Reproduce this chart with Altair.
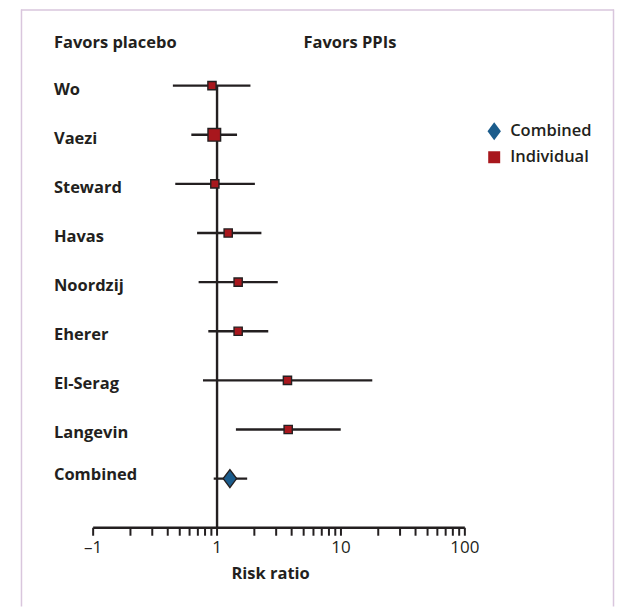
import altair as alt
import pandas as pd

# ---------------- data ----------------
studies = ["Wo", "Vaezi", "Steward", "Havas", "Noordzij", "Eherer", "El-Serag", "Langevin"]
risk_ratio = [0.91, 0.95, 0.96, 1.23, 1.48, 1.48, 3.70, 3.75]
ci_low = [0.44, 0.62, 0.46, 0.69, 0.71, 0.85, 0.77, 1.42]
ci_high = [1.86, 1.45, 2.02, 2.28, 3.09, 2.59, 17.9, 9.96]
weights = [1.0, 2.4, 1.0, 1.0, 1.0, 1.0, 1.0, 1.0]

combined_label = "Combined"
combined_rr = 1.27
combined_low = 0.94
combined_high = 1.75

tick_values = [0.1, 0.2, 0.3, 0.4, 0.5, 0.6, 0.7, 0.8, 0.9,
               1, 2, 3, 4, 5, 6, 7, 8, 9,
               10, 20, 30, 40, 50, 60, 70, 80, 90, 100]
tick_label_values = [0.1, 1, 10, 100]
tick_label_texts = ["\u20131", "1", "10", "100"]
axis_title = "Risk ratio"
header_left = "Favors placebo"
header_right = "Favors PPIs"
legend_types = ["Combined", "Individual"]

# ---------------- tables ----------------
ind = pd.DataFrame({
    "label": studies,
    "row": list(range(len(studies))),
    "rr": risk_ratio, "lo": ci_low, "hi": ci_high,
    "weight": weights, "type": "Individual",
})
comb = pd.DataFrame({
    "label": [combined_label], "row": [len(studies)],
    "rr": [combined_rr], "lo": [combined_low], "hi": [combined_high],
    "type": ["Combined"],
})
allrows = pd.concat([ind, comb], ignore_index=True)
axis_row = len(studies) + 1

ref_df = pd.DataFrame({"x": [1], "y": [0], "y2": [axis_row]})
axisline_df = pd.DataFrame({"x": [tick_values[0]], "x2": [tick_values[-1]], "y": [axis_row]})
ticks_df = pd.DataFrame({"x": tick_values, "y": axis_row})
ticklab_df = pd.DataFrame({"x": tick_label_values, "t": tick_label_texts, "y": axis_row})

# ---------------- styling ----------------
INK = "#231f20"
FONT = "Open Sans"
RED = "#a8171d"
BLUE = "#1b5c8c"
SQUARE = "M-0.5,-0.5L0.5,-0.5L0.5,0.5L-0.5,0.5Z"
DIAMOND = "M0,-0.75L0.56,0L0,0.75L-0.56,0Z"

W, H = 594, 598
X = alt.Scale(type="log", domain=[0.02615, 1599], nice=False)
Y = alt.Scale(domain=[-1.5508, 10.6037], reverse=True, nice=False, zero=False)

legend = alt.Legend(
    title=None, orient="none", legendX=461, legendY=109, padding=0,
    symbolSize=576, symbolStrokeColor=INK, symbolStrokeWidth=1.3,
    labelFont=FONT, labelFontSize=16.5, labelFontWeight=600, labelColor=INK,
    labelOffset=3, rowPadding=1,
)
fill_enc = alt.Fill("type:N", scale=alt.Scale(domain=legend_types, range=[BLUE, RED]), legend=legend)
shape_enc = alt.Shape("type:N", scale=alt.Scale(domain=legend_types, range=[DIAMOND, SQUARE]), legend=legend)

FRAME = "#d9c6dd"
frame_left = alt.Chart(ref_df).mark_rule(color=FRAME, strokeWidth=1.5).encode(
    x=alt.value(0.5), y=alt.value(0), y2=alt.value(H))
frame_top = alt.Chart(ref_df).mark_rule(color=FRAME, strokeWidth=1.5).encode(
    x=alt.value(0), x2=alt.value(W), y=alt.value(0.5))
frame_right = alt.Chart(ref_df).mark_rule(color=FRAME, strokeWidth=1.5).encode(
    x=alt.value(W - 0.5), y=alt.value(0), y2=alt.value(H))

TXT = dict(font=FONT, fontSize=16.5, fontWeight="bold", color=INK, align="left", baseline="middle")

headers = alt.Chart(pd.DataFrame({"t": [header_left]})).mark_text(**TXT).encode(
    x=alt.value(33), y=alt.value(34), text="t:N")
headers2 = alt.Chart(pd.DataFrame({"t": [header_right]})).mark_text(**TXT).encode(
    x=alt.value(283), y=alt.value(34), text="t:N")

labels = alt.Chart(ind).mark_text(dy=4, **TXT).encode(
    x=alt.value(33), y=alt.Y("row:Q", scale=Y, axis=None), text="label:N")
comb_label = alt.Chart(comb).mark_text(dy=-4, **TXT).encode(
    x=alt.value(33), y=alt.Y("row:Q", scale=Y, axis=None), text="label:N")

refline = alt.Chart(ref_df).mark_rule(color=INK, strokeWidth=2.4).encode(
    x=alt.X("x:Q", scale=X, axis=None),
    y=alt.Y("y:Q", scale=Y, axis=None), y2="y2:Q")

errbars = alt.Chart(allrows).mark_rule(color=INK, strokeWidth=2.4).encode(
    x=alt.X("lo:Q", scale=X, axis=None), x2="hi:Q",
    y=alt.Y("row:Q", scale=Y, axis=None))

squares = alt.Chart(ind).mark_point(filled=True, opacity=1, stroke=INK, strokeWidth=1.4).encode(
    x=alt.X("rr:Q", scale=X, axis=None),
    y=alt.Y("row:Q", scale=Y, axis=None),
    fill=fill_enc, shape=shape_enc,
    size=alt.Size("weight:Q", scale=alt.Scale(domain=[1, 2.4], range=[270, 640]), legend=None),
)
diamond = alt.Chart(comb).mark_point(filled=True, opacity=1, stroke=INK, strokeWidth=1.4).encode(
    x=alt.X("rr:Q", scale=X, axis=None),
    y=alt.Y("row:Q", scale=Y, axis=None),
    fill=fill_enc, shape=shape_enc, size=alt.value(576),
)

axisline = alt.Chart(axisline_df).mark_rule(color=INK, strokeWidth=2.4).encode(
    x=alt.X("x:Q", scale=X, axis=None), x2="x2:Q",
    y=alt.Y("y:Q", scale=Y, axis=None))
ticks = alt.Chart(ticks_df).mark_rule(color=INK, strokeWidth=2, y2Offset=8).encode(
    x=alt.X("x:Q", scale=X, axis=None),
    y=alt.Y("y:Q", scale=Y, axis=None), y2="y:Q")
ticklabels = alt.Chart(ticklab_df).mark_text(
    align="center", baseline="middle", font=FONT, fontSize=17, color=INK, dy=20
).encode(x=alt.X("x:Q", scale=X, axis=None), y=alt.Y("y:Q", scale=Y, axis=None), text="t:N")
title = alt.Chart(pd.DataFrame({"t": [axis_title], "y": [axis_row]})).mark_text(
    dy=46, **dict(TXT, align="center")
).encode(x=alt.value(250), y=alt.Y("y:Q", scale=Y, axis=None), text="t:N")

chart = alt.layer(
    frame_left, frame_top, frame_right, headers, headers2, labels, comb_label,
    refline, errbars, axisline, ticks, ticklabels, title, squares, diamond,
).properties(
    width=W, height=H,
    padding={"left": 12, "top": 0, "right": 2, "bottom": 0},
    background="white",
).configure_view(stroke=None)

chart.save("out.html", embed_options={"renderer": "svg", "actions": False})
